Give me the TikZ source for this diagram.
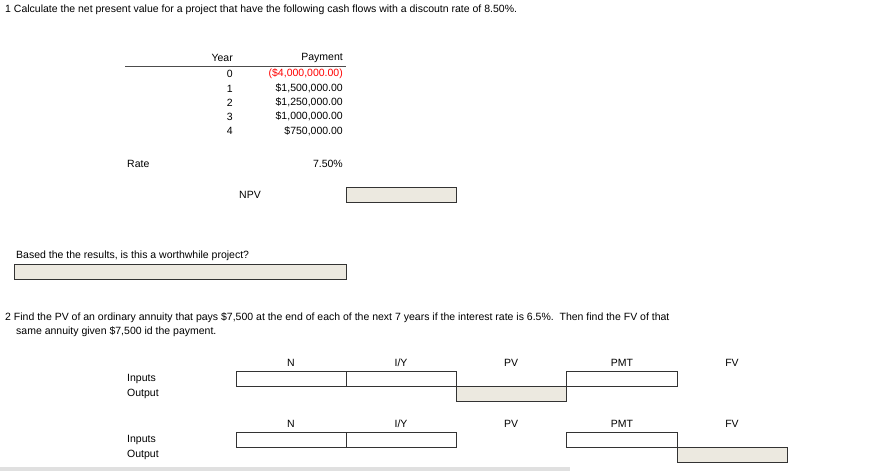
\documentclass[tikz,border=0pt]{standalone}
\usepackage{fontspec}
\setmainfont{Liberation Sans}
\definecolor{shade}{HTML}{ECE9E0}
\begin{document}
\begin{tikzpicture}[x=1pt,y=-1pt,
  txt/.style={inner sep=0pt,font=\fontsize{10.5}{12}\selectfont},
  inbox/.style={draw=black!80,line width=0.9pt,fill=white},
  outbox/.style={draw=black!80,line width=0.9pt,fill=shade}]
\useasboundingbox (0,0) rectangle (888,471);
\fill[black!12] (0,467) rectangle (570,471);
\node[txt,anchor=west] (t1) at (5,10) {1 Calculate the net present value for a project that have the following cash flows with a discoutn rate of 8.50\%.};
\node[txt,anchor=east] (yh) at (233,58) {Year};
\node[txt,anchor=east] (ph) at (343,58) {Payment};
\draw[line width=1pt,black!70] (125,66) coordinate (l1) -- (346,66) coordinate (l2);
\foreach \y/\v/\p/\c in {74/0/{(\$4,000,000.00)}/red, 88.5/1/{\$1,500,000.00}/black, 102.5/2/{\$1,250,000.00}/black, 116.5/3/{\$1,000,000.00}/black, 131/4/{\$750,000.00}/black}{
  \node[txt,anchor=east] (y\v) at (233,\y) {\v};
  \node[txt,anchor=east,text=\c] (p\v) at (343,\y) {\p};
}
\node[txt,anchor=west] (rate) at (127,164) {Rate};
\node[txt,anchor=east] (rv) at (343,164) {7.50\%};
\node[txt] (npv) at (250,195) {NPV};
\draw[outbox] (346,187) rectangle (456,202);
\node[txt,anchor=west] (q) at (16,256) {Based the the results, is this a worthwhile project?};
\draw[outbox] (14,264) rectangle (346,279);
\node[txt,anchor=west] (t2) at (5,318) {2 Find the PV of an ordinary annuity that pays \$7,500 at the end of each of the next 7 years if the interest rate is 6.5\%.\ \ Then find the FV of that};
\node[txt,anchor=west] (t2b) at (16,332) {same annuity given \$7,500 id the payment.};
\foreach \r/\hy/\by in {a/363/371, b/424/432}{
  \foreach \n/\x in {N/291, {I/Y}/401, PV/511, PMT/622, FV/732}{
    \node[txt] at (\x,\hy) {\n};
  }
  \node[txt,anchor=west] (in\r) at (127,\by+8) {Inputs};
  \node[txt,anchor=west] (out\r) at (127,\by+23) {Output};
  \draw[inbox] (236,\by) rectangle (346,\by+15);
  \draw[inbox] (346,\by) rectangle (456,\by+15);
  \draw[inbox] (566,\by) rectangle (677,\by+15);
}
\draw[outbox] (456,386) rectangle (566,401);
\draw[outbox] (677,447) rectangle (787,462);
\end{tikzpicture}
\end{document}
